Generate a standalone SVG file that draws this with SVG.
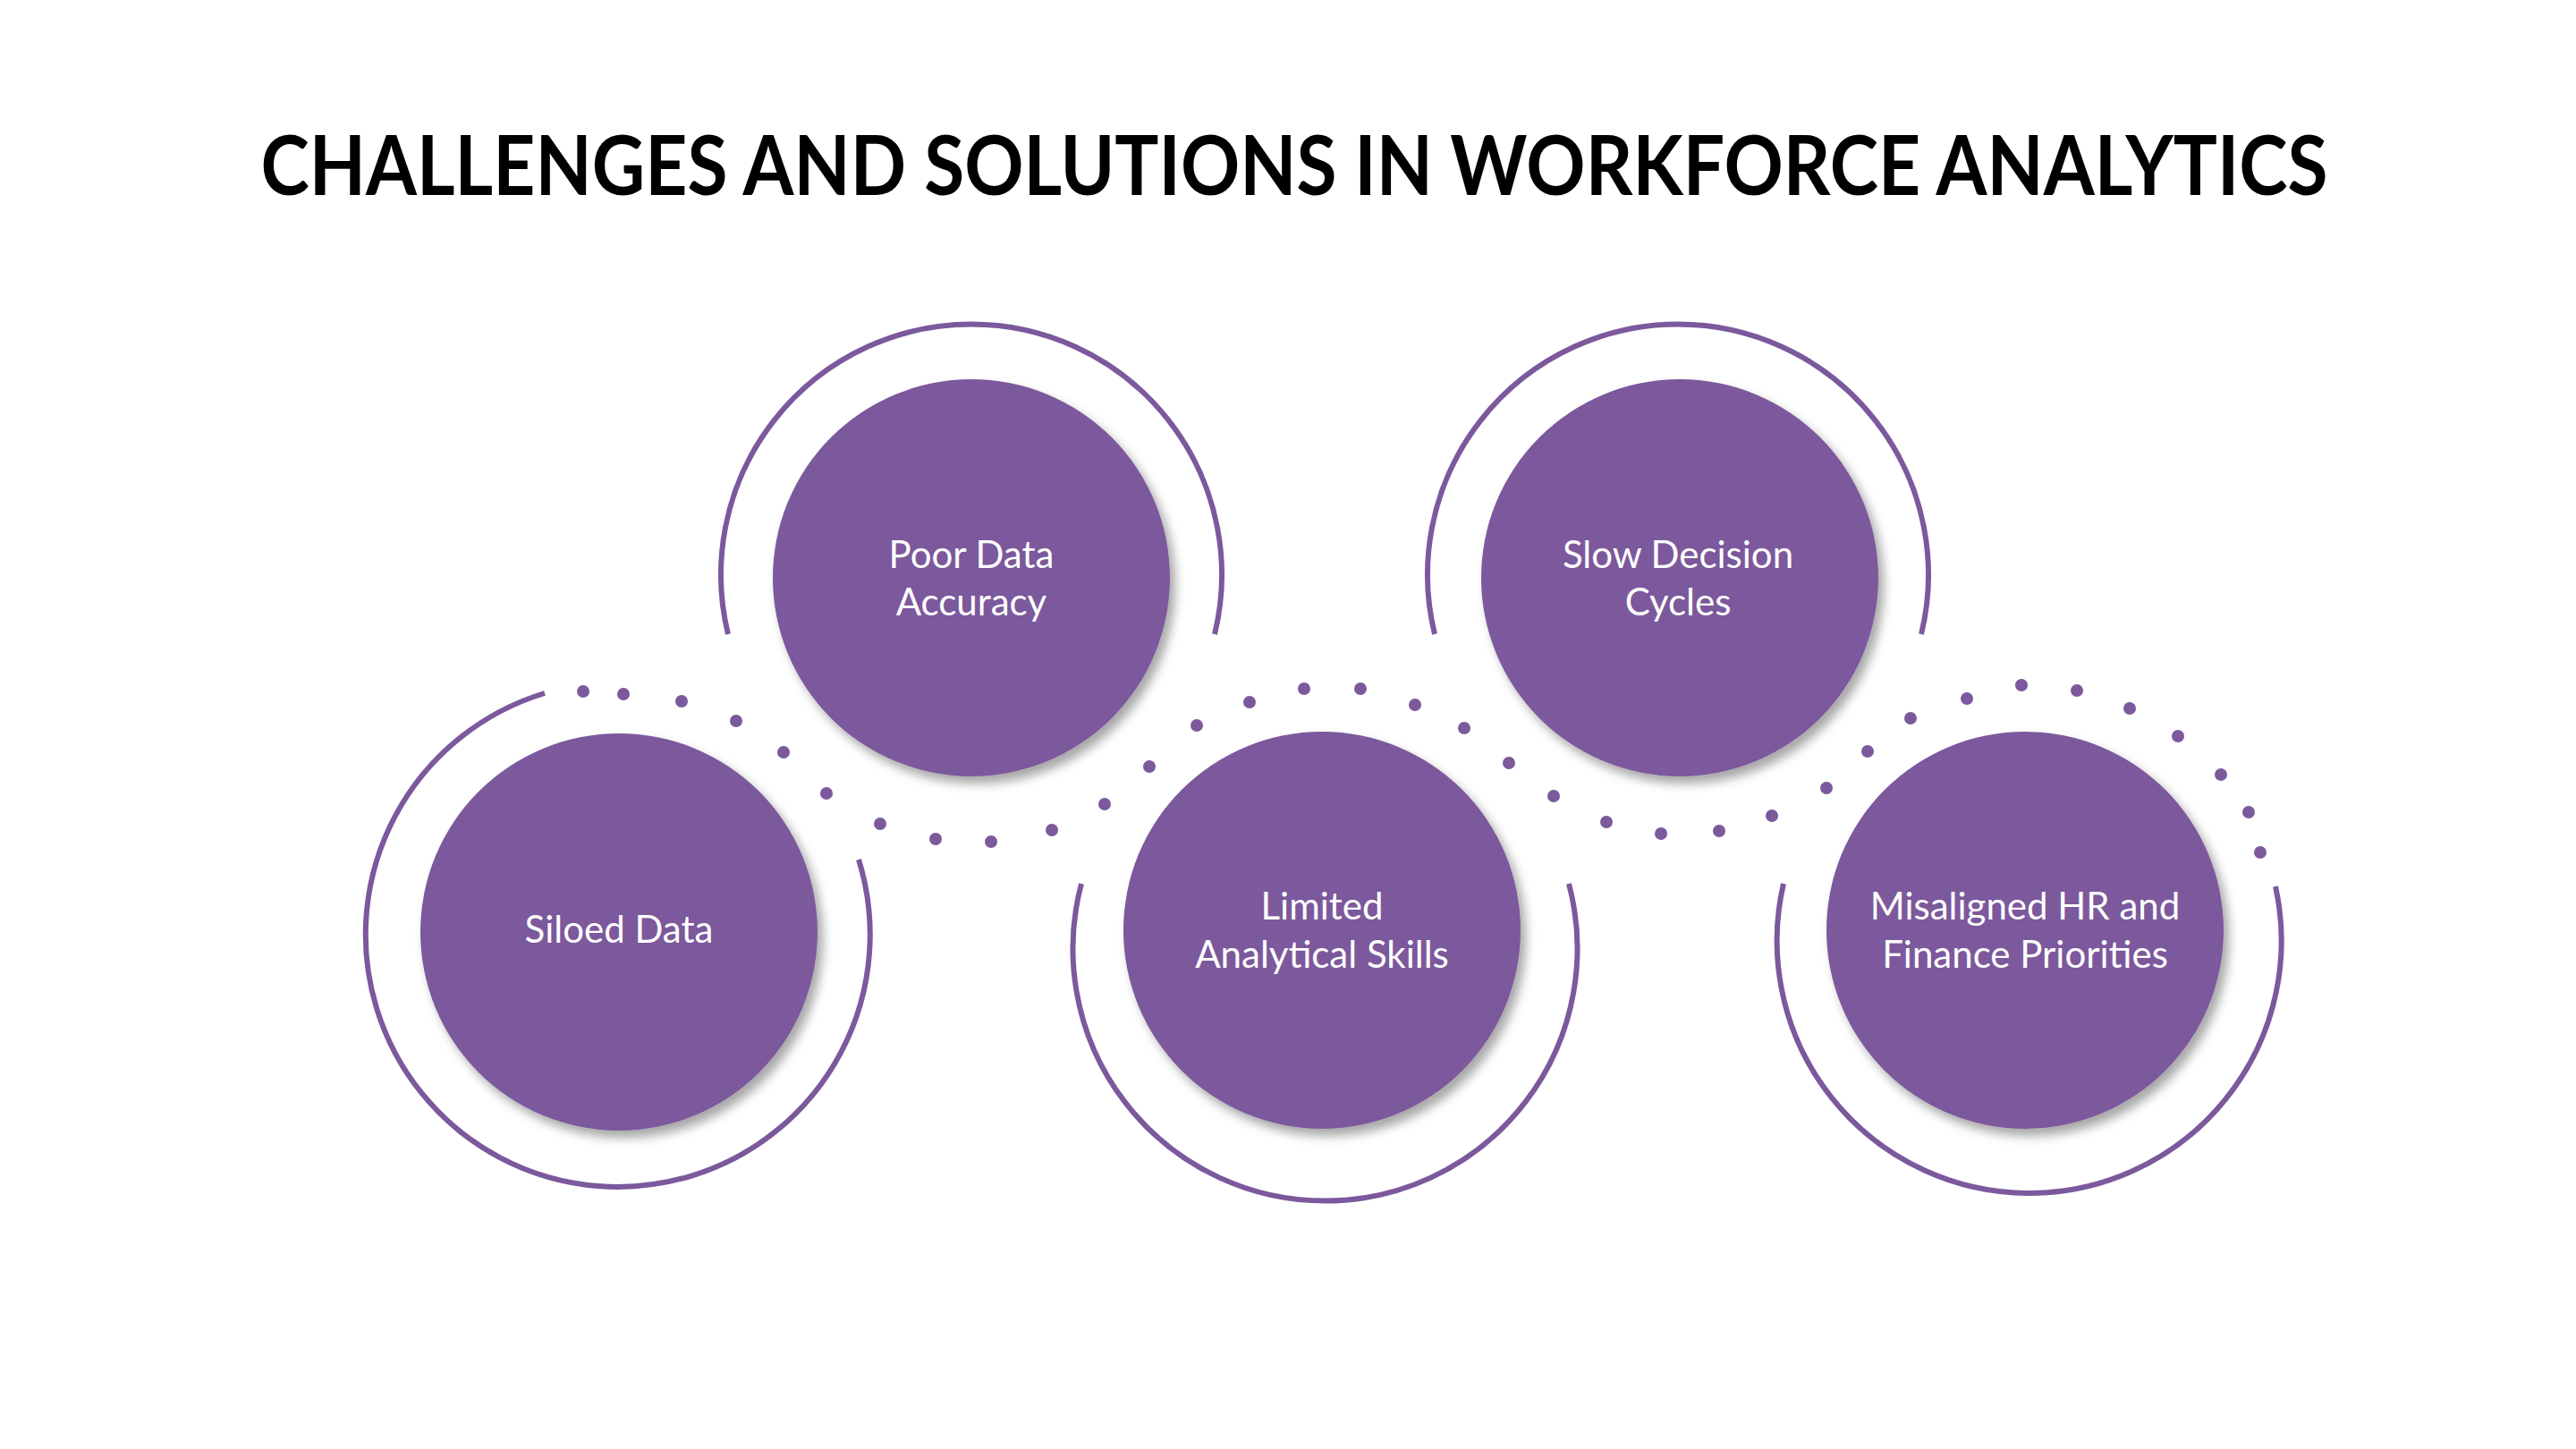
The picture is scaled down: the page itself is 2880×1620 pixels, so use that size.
<svg xmlns="http://www.w3.org/2000/svg" width="2880" height="1620" viewBox="0 0 2880 1620">
<style>
.ring{fill:none;stroke:#7B599C;stroke-width:6}
.fill{fill:#7B599C;filter:url(#sh)}
.lbl{font-family:Lato,"Open Sans",sans-serif;font-size:42px;fill:#fff;text-anchor:middle}
.dot{fill:#7B599C}
</style>
<defs><filter id="sh" x="-20%" y="-20%" width="140%" height="140%"><feDropShadow dx="6" dy="8" stdDeviation="6" flood-color="#000" flood-opacity="0.35"/></filter></defs>
<rect width="2880" height="1620" fill="#fff"/>
<text x="1447" y="218" font-family="Lato,'Open Sans',sans-serif" font-weight="bold" font-size="92" text-anchor="middle" textLength="2311" lengthAdjust="spacingAndGlyphs" fill="#000">CHALLENGES AND SOLUTIONS IN WORKFORCE ANALYTICS</text>
<g id="connectors">
<g class="dot">
<circle cx="652" cy="773" r="7"/><circle cx="697" cy="776" r="7"/><circle cx="762" cy="784" r="7"/><circle cx="823" cy="806" r="7"/><circle cx="876" cy="841" r="7"/><circle cx="924" cy="887" r="7"/>
<circle cx="984" cy="921" r="7"/><circle cx="1046" cy="938" r="7"/><circle cx="1108" cy="941" r="7"/><circle cx="1176" cy="928" r="7"/><circle cx="1235" cy="899" r="7"/><circle cx="1285" cy="857" r="7"/>
<circle cx="1338" cy="811" r="7"/><circle cx="1397" cy="785" r="7"/><circle cx="1458" cy="770" r="7"/><circle cx="1521" cy="770" r="7"/><circle cx="1582" cy="788" r="7"/><circle cx="1637" cy="814" r="7"/><circle cx="1687" cy="853" r="7"/>
<circle cx="1737" cy="890" r="7"/><circle cx="1796" cy="919" r="7"/><circle cx="1857" cy="932" r="7"/><circle cx="1922" cy="929" r="7"/><circle cx="1981" cy="912" r="7"/><circle cx="2042" cy="881" r="7"/><circle cx="2088" cy="840" r="7"/>
<circle cx="2136" cy="803" r="7"/><circle cx="2199" cy="781" r="7"/><circle cx="2260" cy="766" r="7"/><circle cx="2322" cy="772" r="7"/><circle cx="2381" cy="792" r="7"/><circle cx="2435" cy="823" r="7"/><circle cx="2483" cy="866" r="7"/><circle cx="2514" cy="908" r="7"/><circle cx="2527" cy="953" r="7"/>
</g>
</g>
<g id="siloed">
<path class="ring" d="M960,961 A282,282 0 1 1 609,775"/>
<circle class="fill" cx="692" cy="1042" r="222"/>
<text class="lbl" x="692" y="1054">Siloed Data</text>
</g>
<g id="poor">
<path class="ring" d="M814,709 A280,280 0 1 1 1358,709"/>
<circle class="fill" cx="1086" cy="646" r="222"/>
<text class="lbl" x="1086" y="635">Poor Data</text>
<text class="lbl" x="1086" y="688">Accuracy</text>
</g>
<g id="limited">
<path class="ring" d="M1754,988 A282,282 0 1 1 1209,988"/>
<circle class="fill" cx="1478" cy="1040" r="222"/>
<text class="lbl" x="1478" y="1028">Limited</text>
<text class="lbl" x="1478" y="1082">Analytical Skills</text>
</g>
<g id="slow">
<path class="ring" d="M1604,709 A280,280 0 1 1 2148,709"/>
<circle class="fill" cx="1878" cy="646" r="222"/>
<text class="lbl" x="1876" y="635">Slow Decision</text>
<text class="lbl" x="1876" y="688">Cycles</text>
</g>
<g id="misaligned">
<path class="ring" d="M2544,991 A282,282 0 1 1 1994,988"/>
<circle class="fill" cx="2264" cy="1040" r="222"/>
<text class="lbl" x="2264" y="1028">Misaligned HR and</text>
<text class="lbl" x="2264" y="1082">Finance Priorities</text>
</g>
</svg>
